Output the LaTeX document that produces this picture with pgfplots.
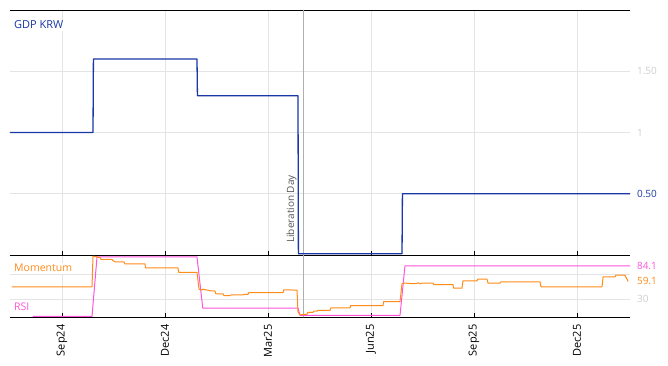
\documentclass[border=0pt]{standalone}
\usepackage{fontspec}
\setmainfont{Open Sans}
\usepackage{pgfplots}
\pgfplotsset{compat=1.18}
\definecolor{gdpblue}{RGB}{25,55,165}
\definecolor{momorange}{RGB}{255,140,26}
\definecolor{rsipink}{RGB}{255,85,220}
\definecolor{gridgray}{RGB}{228,228,228}
\definecolor{lblgray}{RGB}{205,205,205}
\definecolor{ldgray}{RGB}{175,175,175}
\definecolor{ldtext}{RGB}{85,85,85}
\pgfplotsset{
  mybase/.style={
    scale only axis, width=620pt,
    xmin=-1.515, xmax=16.545,
    xtick={0,3,6,9,12,15},
    tick align=inside, xtick pos=lower, major tick length=4pt,
    separate axis lines,
    x axis line style={black, line width=0.8pt},
    y axis line style={draw=none},
    xtick style={black, line width=0.6pt},
    ytick style={draw=none},
    grid=major, major grid style={gridgray, line width=0.5pt},
    yticklabel pos=right, ytick pos=right,
    tick label style={font=\fontsize{10}{12}\selectfont},
    yticklabel style={text=lblgray, xshift=3.5pt},
    every axis plot/.append style={line join=round, line cap=round},
  }
}
\begin{document}
\begin{tikzpicture}
\path[use as bounding box] (-10pt,-111pt) rectangle (658pt,255pt);
\begin{axis}[mybase, name=top, at={(0pt,0pt)}, anchor=south west,
  height=245pt, ymin=0, ymax=2,
  xticklabels={},
  ytick={0.5,1,1.5}, yticklabels={\textcolor{gdpblue}{0.50},1,1.50},
]
\addplot[ldgray, line width=0.5pt] coordinates {(7.02,0) (7.02,2)};
\addplot[gdpblue, line width=1.3pt] coordinates {
(-1.515,1.0) (0.903,1.0) (0.915,1.6) (3.932,1.6) (3.945,1.3) (6.874,1.3)
(6.886,0.01) (9.904,0.01) (9.916,0.5) (16.545,0.5)};
\node[anchor=base west, inner sep=1.5pt, fill=white, text=gdpblue, font=\fontsize{11}{13}\selectfont]
  at ([xshift=2.5pt,yshift=-19pt]rel axis cs:0,1) {GDP KRW};
\node[anchor=base west, inner sep=0pt, rotate=90, text=ldtext, font=\fontsize{10}{12}\selectfont]
  at ([xshift=-9pt,yshift=12pt]axis cs:7.02,0) {Liberation Day};
\end{axis}
\begin{axis}[mybase, name=bot, at={(0pt,-62pt)}, anchor=south west,
  height=62pt, ymin=0.5, ymax=102,
  xticklabels={Sep24,Dec24,Mar25,Jun25,Sep25,Dec25},
  xticklabel style={rotate=90, anchor=east, text=black, font=\fontsize{11}{13}\selectfont},
  xticklabel shift=4pt,
  ytick={30,70}, yticklabels={30,{}},
  extra y ticks={59.1,84.1},
  extra y tick labels={\textcolor{momorange}{59.1},\textcolor{rsipink}{84.1}},
  extra y tick style={grid=none},
]
\addplot[ldgray, line width=0.5pt] coordinates {(7.02,0.5) (7.02,102)};
\addplot[rsipink, line width=1pt] coordinates {
(-0.845,1.6) (0.874,1.6) (1.02,99) (3.932,99) (4.10,15) (6.874,15) (6.933,3.3)
(9.846,3.3) (9.99,84.1) (16.545,84.1)};
\addplot[momorange, line width=1pt] coordinates {
(-1.456,50) (0.874,50) (0.903,100) (1.020,99) (1.050,98) (1.107,98) (1.130,95)
(1.456,95) (1.486,92.5) (1.55,90.7) (1.806,90.7) (1.835,87.4) (2.418,87.4)
(2.43,80.8) (3.379,80.8) (3.40,73.7) (3.932,73.7) (3.991,46) (4.05,44.5)
(4.107,46) (4.195,45) (4.311,43.5) (4.457,43) (4.48,38.5) (4.690,38.5)
(4.72,35.4) (4.894,35.4) (4.92,36.6) (5.272,36.6) (5.3,37.5) (5.418,37.5)
(5.44,40.4) (6.438,40.4) (6.46,45) (6.845,44.5) (6.874,9) (6.933,4)
(7.020,4.5) (7.137,5) (7.16,8) (7.311,8) (7.33,10) (7.428,10) (7.45,11.5)
(7.807,11.5) (7.83,15.4) (8.389,15.4) (8.41,19.2) (9.350,19.2) (9.37,25.8)
(9.846,25.8) (9.904,55.3) (10.0,56) (10.2,55) (10.341,55.5) (10.37,56.5)
(10.428,55) (10.5,56) (10.807,56) (10.83,53.6) (11.389,53.6) (11.41,47.6)
(11.651,47.6) (11.68,59.6) (12.088,59.6) (12.11,62.4) (12.380,62.4)
(12.409,55.8) (12.759,55.8) (12.78,58) (13.924,58) (13.953,49.8) (15.730,49.8)
(15.76,66.2) (16.109,66.2) (16.13,68.9) (16.400,68.9) (16.487,59.1)};
\node[anchor=base west, inner sep=1.5pt, fill=white, text=momorange, font=\fontsize{10.5}{12}\selectfont]
  at ([xshift=2.5pt,yshift=-17pt]rel axis cs:0,1) {Momentum};
\node[anchor=base west, inner sep=1.5pt, fill=white, text=rsipink, font=\fontsize{10.5}{12}\selectfont]
  at ([xshift=2.5pt,yshift=7pt]rel axis cs:0,0) {RSI};
\end{axis}
\end{tikzpicture}
\end{document}
